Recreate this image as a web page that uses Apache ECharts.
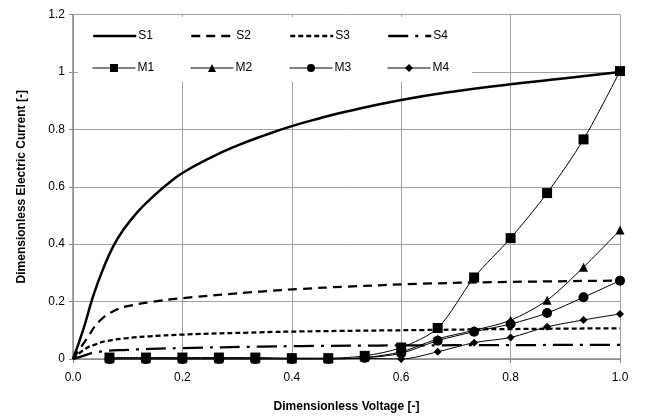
<!DOCTYPE html>
<html>
<head>
<meta charset="utf-8">
<script src="https://cdn.jsdelivr.net/npm/echarts@6/dist/echarts.min.js"></script>
<style>
  html, body { margin: 0; padding: 0; background: #fff; }
  #chart { width: 645px; height: 418px; }
</style>
</head>
<body>
<div id="chart"></div>
<script>
// simulated curves: [voltage, current]
const s1 = [[0, 0], [0.019, 0.104], [0.037, 0.22], [0.056, 0.318], [0.074, 0.394], [0.092, 0.45],
  [0.117, 0.51], [0.141, 0.556], [0.17, 0.605], [0.2, 0.648], [0.25, 0.70], [0.3, 0.743],
  [0.35, 0.779], [0.4, 0.811], [0.45, 0.838], [0.5, 0.862], [0.6, 0.902], [0.7, 0.933],
  [0.8, 0.957], [0.9, 0.978], [1.0, 1.0]];
const s2 = [[0, 0], [0.025, 0.07], [0.05, 0.135], [0.08, 0.172], [0.1, 0.184], [0.141, 0.198],
  [0.2, 0.212], [0.343, 0.235], [0.417, 0.244], [0.5, 0.252], [0.637, 0.262], [0.78, 0.268], [1.0, 0.273]];
const s3 = [[0, 0], [0.022, 0.035], [0.04, 0.05], [0.06, 0.062], [0.1, 0.073], [0.141, 0.079],
  [0.2, 0.085], [0.343, 0.093], [0.417, 0.096], [0.643, 0.101], [0.78, 0.104], [1.0, 0.107]];
const s4 = [[0, 0], [0.02, 0.012], [0.043, 0.024], [0.1, 0.032], [0.2, 0.038], [0.343, 0.043],
  [0.417, 0.045], [0.7, 0.048], [1.0, 0.049]];

// measured points
const mVolt = [0.0667, 0.1333, 0.2, 0.2667, 0.3333, 0.4, 0.4667, 0.5333, 0.6, 0.6667, 0.7333, 0.8, 0.8667, 0.9333, 1.0];
const m1 = [0.005, 0.005, 0.005, 0.005, 0.005, 0.003, 0.003, 0.011, 0.04, 0.108, 0.284, 0.421, 0.578, 0.765, 1.003];
const m2 = [0, 0, 0, 0, 0, 0, 0, 0.005, 0.025, 0.07, 0.1, 0.135, 0.205, 0.32, 0.449];
const m3 = [0, 0, 0, 0, 0, 0, 0, 0.004, 0.02, 0.064, 0.095, 0.122, 0.16, 0.215, 0.273];
const m4 = [0, 0, 0, 0, 0, 0, 0, 0.002, 0, 0.025, 0.057, 0.075, 0.112, 0.136, 0.157];

const xTicks = [0, 0.2, 0.4, 0.6, 0.8, 1.0];
const yTicks = [0, 0.2, 0.4, 0.6, 0.8, 1, 1.2];

const FONT = '"Liberation Sans", Arial, sans-serif';
const chart = echarts.init(document.getElementById('chart'));

const simLine = (name, data, dash, width) => ({
  name, type: 'line', data, smooth: 0.5, symbol: 'none', z: 3,
  lineStyle: { color: '#000', width, type: dash, cap: 'butt' },
  itemStyle: { color: '#000' }
});
const measLine = (name, ys, symbol, size) => ({
  name, type: 'line', data: mVolt.map((v, i) => [v, ys[i]]), smooth: 0.3,
  symbol, symbolSize: size, showSymbol: true, z: 4,
  lineStyle: { color: '#000', width: 1 },
  itemStyle: { color: '#000' }
});

const names = ['S1', 'S2', 'S3', 'S4', 'M1', 'M2', 'M3', 'M4'];
const colX = [92, 190, 289, 387];
const rowY = [30, 62];
const legends = names.map((n, i) => ({
  data: [n],
  left: colX[i % 4],
  top: rowY[Math.floor(i / 4)],
  itemWidth: 43,
  itemHeight: 10,
  itemGap: 0,
  padding: 0,
  selectedMode: false,
  // simulated curves have no marker in the key
  itemStyle: i < 4 ? { opacity: 0 } : {},
  lineStyle: { width: i < 4 ? 2.5 : 1 },
  textStyle: { fontFamily: FONT, fontSize: 12, color: '#000', padding: [0, 0, 0, -3] }
}));

const option = {
  animation: false,
  backgroundColor: '#fff',
  grid: { left: 73, right: 25, top: 14.5, bottom: 58, containLabel: false },
  legend: legends,
  graphic: [{
    type: 'rect', z: 3,
    shape: { x: 78, y: 17, width: 394, height: 65 },
    style: { fill: '#fff' }
  }],
  xAxis: {
    type: 'value', min: 0, max: 1, interval: 0.2,
    name: 'Dimensionless Voltage [-]', nameLocation: 'middle', nameGap: 42,
    nameTextStyle: { fontFamily: FONT, fontSize: 12, fontWeight: 'bold', color: '#000' },
    axisLine: { lineStyle: { color: '#888', width: 1.5 } },
    axisTick: { show: true, inside: false, length: 4, lineStyle: { color: '#888' } },
    axisLabel: { fontFamily: FONT, fontSize: 12, color: '#000', margin: 13,
      formatter: v => xTicks.includes(+v.toFixed(1)) ? v.toFixed(1) : '' },
    splitLine: { show: true, lineStyle: { color: '#a0a0a0', width: 1 } }
  },
  yAxis: {
    type: 'value', min: 0, max: 1.2, interval: 0.2,
    name: 'Dimensionless Electric Current [-]', nameLocation: 'middle', nameGap: 45,
    nameTextStyle: { fontFamily: FONT, fontSize: 12, fontWeight: 'bold', color: '#000' },
    axisLine: { show: true, lineStyle: { color: '#888', width: 1.5 } },
    axisTick: { show: true, inside: false, length: 4, lineStyle: { color: '#888' } },
    axisLabel: { fontFamily: FONT, fontSize: 12, color: '#000', margin: 8,
      formatter: v => String(yTicks.find(t => Math.abs(t - v) < 1e-6) ?? '') },
    splitLine: { show: true, lineStyle: { color: '#a0a0a0', width: 1 } }
  },
  series: [
    simLine('S1', s1, 'solid', 2.5),
    simLine('S2', s2, [9, 6], 2.25),
    simLine('S3', s3, [5, 3], 2.25),
    simLine('S4', s4, [20, 7, 3, 7], 2.25),
    measLine('M1', m1, 'rect', 10),
    measLine('M2', m2, 'triangle', 9),
    measLine('M3', m3, 'circle', 10),
    measLine('M4', m4, 'diamond', 8)
  ]
};

chart.setOption(option);
</script>
</body>
</html>
